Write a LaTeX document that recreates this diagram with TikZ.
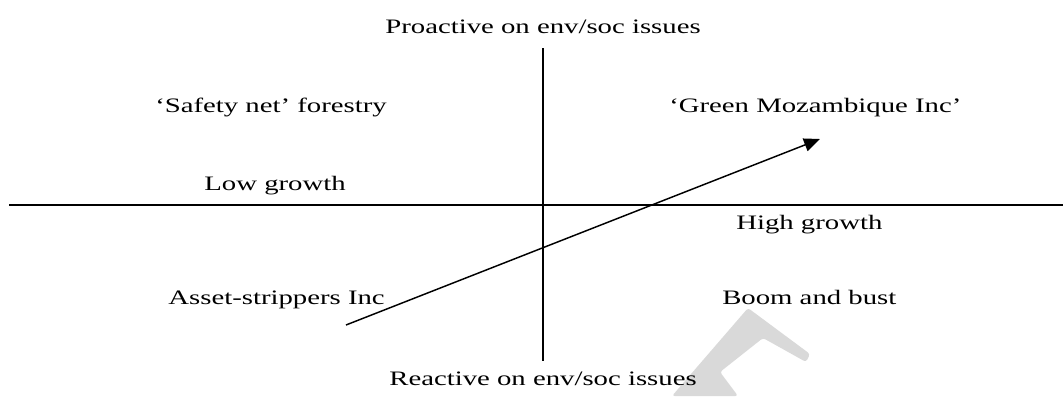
\documentclass[tikz,border=0pt]{standalone}
\usepackage{fontspec}
\setmainfont{Liberation Serif}[FakeStretch=1.4]
\usetikzlibrary{arrows.meta}
\tikzset{
  lbl/.style={anchor=base, inner sep=0pt, font=\fontsize{15.4}{18}\selectfont},
  axis/.style={line width=1.5pt},
  trend/.style={line width=1.1pt, -{Triangle[length=12pt,width=10pt]}},
  wmark/.style={fill=black!15, draw=none}
}
\begin{document}
\begin{tikzpicture}[x=0.75pt,y=-0.75pt]
\useasboundingbox (0,0) rectangle (1063,396);
% faint watermark fragment
\fill[wmark, rounded corners=2pt] (748,308) -- (810,354) -- (806,362) -- (763,338) -- (720,372) -- (738,396) -- (672,396) -- cycle;
% axes
\coordinate (hL) at (9,205);
\coordinate (hR) at (1063,205);
\coordinate (vT) at (543,48);
\coordinate (vB) at (543,361);
\draw[axis] (hL) -- (hR);
\draw[axis] (vT) -- (vB);
% labels
\node[lbl] (pro) at (543,33) {Proactive on env/soc issues};
\node[lbl] (rea) at (543,385) {Reactive on env/soc issues};
\node[lbl, anchor=base east] (safe) at (387,112) {‘Safety net’ forestry};
\node[lbl, anchor=base west] (green) at (669,112) {‘Green Mozambique Inc’};
\node[lbl, anchor=base east] (low) at (346,190) {Low growth};
\node[lbl, anchor=base west] (high) at (736,229) {High growth};
\node[lbl, anchor=base east] (asset) at (385,304) {Asset-strippers Inc};
\node[lbl, anchor=base west] (boom) at (722,304) {Boom and bust};
% trend arrow
\coordinate (aS) at (346,325);
\coordinate (aE) at (820,139);
\draw[trend] (aS) -- (aE);
\end{tikzpicture}
\end{document}
